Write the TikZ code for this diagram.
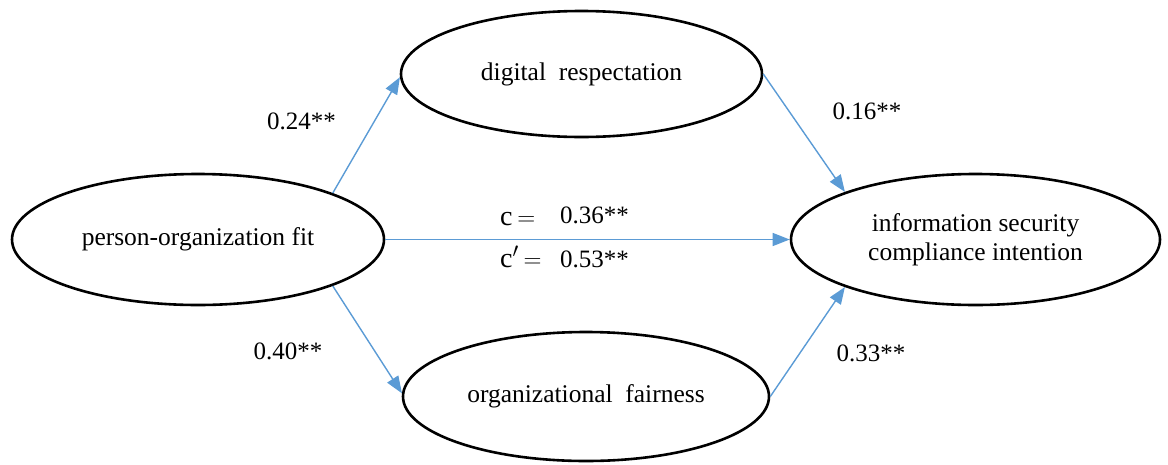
\documentclass[tikz,border=0pt]{standalone}
\usepackage{fontspec}
\setmainfont{Liberation Serif}
\usetikzlibrary{shapes.geometric,arrows.meta}
\definecolor{arrowblue}{RGB}{91,155,213}
\tikzset{
  construct/.style={ellipse, draw=black, line width=2.6pt, inner sep=0pt, align=center, font=\fontsize{25.5}{29}\selectfont},
  path/.style={draw=arrowblue, line width=1.4pt, -{Triangle[length=17pt,width=13pt,fill=arrowblue]}},
  coef/.style={font=\fontsize{25}{29}\selectfont, inner sep=0pt},
  ceq/.style={font=\fontsize{28}{32}\selectfont, inner sep=0pt},
}
\begin{document}
\begin{tikzpicture}[x=1pt,y=-1pt]
\useasboundingbox (0,0) rectangle (1168,464);
\node[construct, minimum width=372pt, minimum height=131pt] (pof) at (198,239.5) {person-organization fit};
\node[construct, minimum width=361pt, minimum height=126pt] (dr) at (581.5,74) {digital\ \ respectation};
\node[construct, minimum width=366pt, minimum height=129pt] (of) at (586,396.5) {organizational\ \ fairness};
\node[construct, minimum width=369pt, minimum height=131pt] (isci) at (975.5,239.5) {information security\\compliance intention};

\draw[path] (pof.19) -- (dr.181);
\draw[path] (dr.east) -- (isci.160);
\draw[path] (pof.east) -- (isci.west);
\draw[path] (pof.-19.4) -- (of.179);
\draw[path] (of.east) -- (isci.200.3);

\node[coef] (l1) at (301.5,121) {0.24**};
\node[coef] (l2) at (867,111) {0.16**};
\node[coef] (l3) at (288,351) {0.40**};
\node[coef] (l4) at (871,353) {0.33**};
\node[ceq, anchor=base west] (c1) at (500,225) {c\,$=$};
\node[coef, anchor=base west] (v1) at (560,223) {0.36**};
\node[ceq, anchor=base west] (c2) at (500,267) {c$'$\,$=$};
\node[coef, anchor=base west] (v2) at (560,267) {0.53**};
\end{tikzpicture}
\end{document}
